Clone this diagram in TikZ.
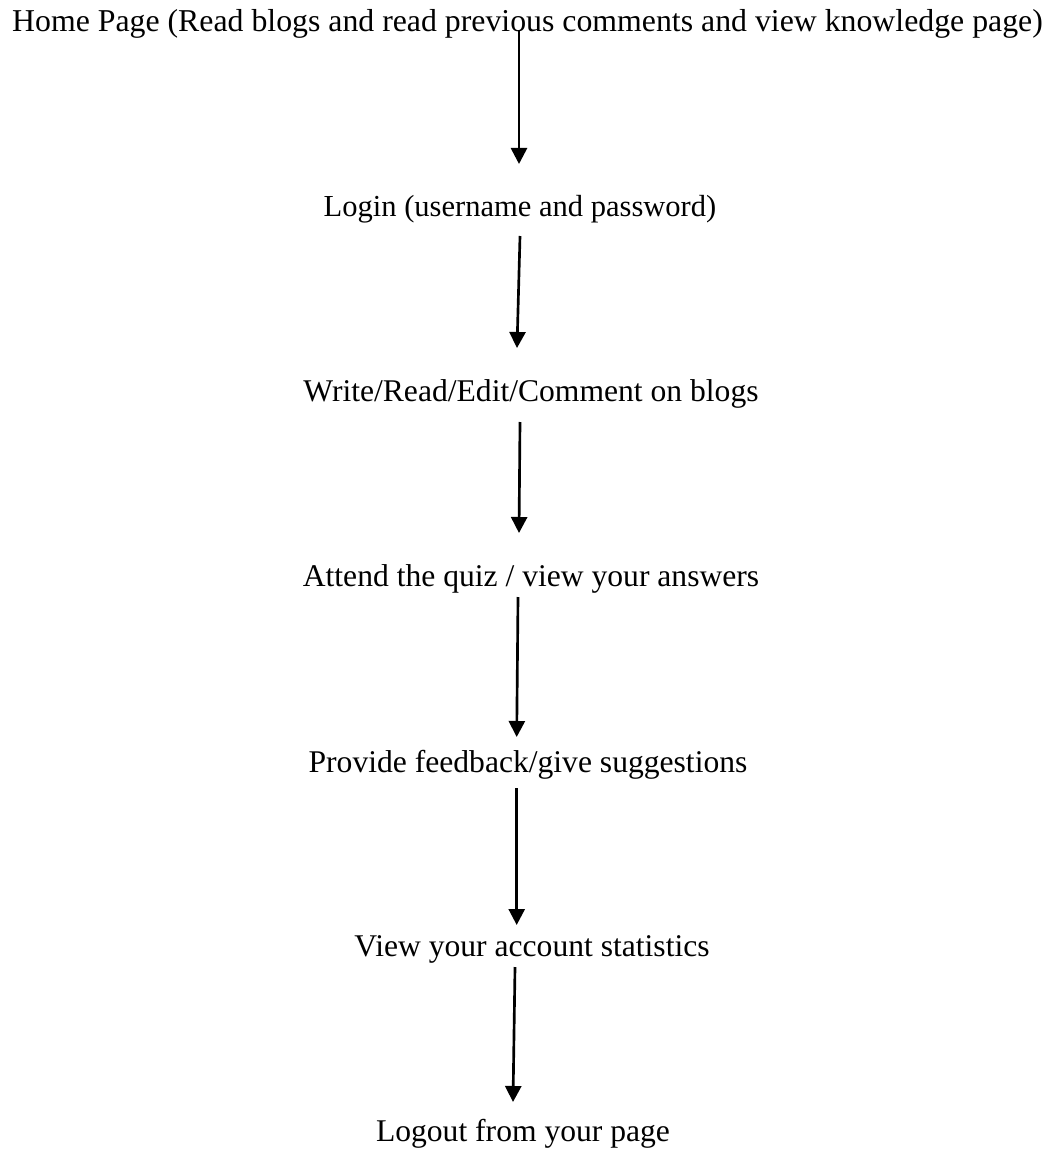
\documentclass[tikz,border=0pt]{standalone}
\usepackage{fontspec}
\setmainfont{Liberation Serif}
\usetikzlibrary{arrows.meta}
\begin{document}
\begin{tikzpicture}[
		x=0.75pt, y=-0.75pt,
		stage/.style={anchor=base, inner sep=0pt, font=\fontsize{23.7}{28}\selectfont},
		flow/.style={line width=2pt, -{Triangle[width=12pt,length=12pt]}}
	]
	\useasboundingbox (0,0) rectangle (1055,1152);
	\node[anchor=base, inner sep=0pt, font=\fontsize{20}{24}\selectfont] (home) at (527.5,31.7)
		{\resizebox{773pt}{!}{Home Page (Read blogs and read previous comments and view knowledge page)}};
	\node[stage, font=\fontsize{22.9}{28}\selectfont] (login) at (520,216.7) {Login (username and password)};
	\node[stage] (blogs) at (531,401.7) {Write/Read/Edit/Comment on blogs};
	\node[stage] (quiz) at (531,586.7) {Attend the quiz / view your answers};
	\node[stage] (feedback) at (528,772.7) {Provide feedback/give suggestions};
	\node[stage] (stats) at (532,956.7) {View your account statistics};
	\node[stage] (logout) at (523,1141.7) {Logout from your page};
	% arrow ends
	\coordinate (h1) at (519,30);   \coordinate (l1) at (519,164);
	\coordinate (h2) at (520,236);  \coordinate (l2) at (517,348);
	\coordinate (h3) at (520,422);  \coordinate (l3) at (519,533);
	\coordinate (h4) at (518,597);  \coordinate (l4) at (516.7,737);
	\coordinate (h5) at (516.7,788);\coordinate (l5) at (516.7,925);
	\coordinate (h6) at (515,967);  \coordinate (l6) at (513,1102);
	\foreach \i in {1,...,6}
		\draw[flow] (h\i) -- (l\i);
\end{tikzpicture}
\end{document}
